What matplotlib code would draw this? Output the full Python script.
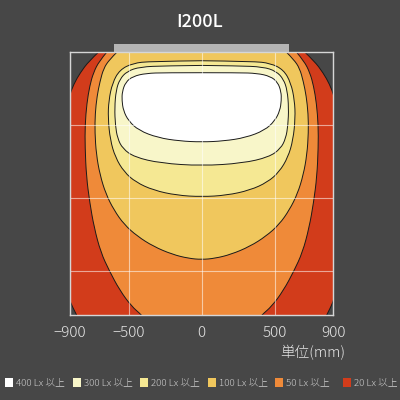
import matplotlib
matplotlib.use('Agg')
import matplotlib.pyplot as plt
from matplotlib.path import Path
from matplotlib.patches import PathPatch, Rectangle

plt.rcParams['font.family'] = ['Noto Sans CJK JP', 'DejaVu Sans']

# ---------------- data (mm) ----------------
title = "I200L"
unit_label = "単位(mm)"
x_ticks = [-900, -500, 0, 500, 900]
x_tick_labels = ["\u2212900", "\u2212500", "0", "500", "900"]
y_grid = [500, 1000, 1500]
lamp_x = [-600, 600]

levels = ["400 Lx 以上", "300 Lx 以上", "200 Lx 以上", "100 Lx 以上", "50 Lx 以上", "20 Lx 以上"]
level_colors = ["#ffffff", "#f8f6c9", "#f5e893", "#f0c75d", "#ef8a39", "#d23c1b"]

# right half of each iso-lux boundary (mirrored for the left half)
lx400_x = [0, 250, 380, 470, 520, 543, 545, 535, 500, 430, 300, 150, 0]
lx400_y = [140, 140, 144, 165, 205, 270, 330, 400, 470, 535, 585, 608, 615]

lx300_x = [0, 250, 420, 510, 560, 585, 595, 590, 575, 540, 460, 280, 0]
lx300_y = [90, 93, 100, 130, 185, 260, 380, 500, 590, 660, 718, 760, 778]

lx200_x = [0, 350, 470, 560, 610, 635, 640, 625, 590, 530, 450, 330, 170, 0]
lx200_y = [58, 62, 75, 120, 210, 330, 450, 600, 720, 820, 890, 945, 980, 990]

lx100_x = [580, 630, 670, 695, 715, 728, 730, 720, 695, 655, 600, 530, 440, 330, 200, 90, 0]
lx100_y = [0, 50, 110, 200, 300, 420, 550, 700, 840, 970, 1080, 1180, 1260, 1330, 1385, 1412, 1420]

lx50_x = [649, 700, 740, 765, 785, 797, 797, 788, 765, 735, 690, 630, 560, 480, 410, 370]
lx50_y = [0, 60, 140, 230, 350, 500, 650, 850, 1030, 1200, 1370, 1500, 1630, 1740, 1800, 1850]

lx20_x = [706, 770, 830, 875, 905, 960, 990, 990, 960, 910, 854, 835]
lx20_y = [0, 60, 140, 220, 300, 500, 800, 1100, 1450, 1690, 1800, 1850]

boundaries = [(lx20_x, lx20_y), (lx50_x, lx50_y), (lx100_x, lx100_y),
              (lx200_x, lx200_y), (lx300_x, lx300_y), (lx400_x, lx400_y)]
fill_colors = level_colors[::-1]

bg = "#474747"
text_col = "#e6e6e6"


def full_outline(xs, ys):
    right = list(zip(xs, ys))
    left = [(-x, y) for x, y in reversed(right)]
    if right[-1][0] == 0:
        return right + left[1:]
    return right + left


def smooth_path(pts, closed):
    verts = [pts[0]]
    codes = [Path.MOVETO]
    n = len(pts)
    for i in range(1, n - 1):
        c = pts[i]
        if i == n - 2:
            e = pts[-1]
        else:
            e = ((pts[i][0] + pts[i + 1][0]) / 2, (pts[i][1] + pts[i + 1][1]) / 2)
        verts += [c, e]
        codes += [Path.CURVE3, Path.CURVE3]
    if closed:
        verts.append(pts[0])
        codes.append(Path.CLOSEPOLY)
    return Path(verts, codes)


fig = plt.figure(figsize=(4, 4), dpi=100, facecolor=bg)
ax = fig.add_axes([0.175, 0.2125, 0.6583, 0.6568])
ax.set_facecolor(bg)
ax.set_xlim(-900, 900)
ax.set_ylim(1800, 0)

for (xs, ys), col in zip(boundaries, fill_colors):
    pts = full_outline(xs, ys)
    ax.add_patch(PathPatch(smooth_path(pts, True), facecolor=col, edgecolor='none', zorder=1))
    ax.add_patch(PathPatch(smooth_path(pts, False), facecolor='none', edgecolor='#1a1a1a',
                           lw=0.7, zorder=2))

# lamp
ax.add_patch(Rectangle((lamp_x[0], -60), lamp_x[1] - lamp_x[0], 60, facecolor='#b4b4b4',
                       edgecolor='none', clip_on=False, zorder=3))

ax.set_xticks(x_ticks)
ax.set_xticklabels(x_tick_labels, fontweight='light')
ax.set_yticks(y_grid)
ax.tick_params(axis='x', length=0, pad=8, labelsize=11, labelcolor=text_col)
ax.tick_params(axis='y', length=0, labelleft=False)
ax.set_axisbelow(False)
ax.grid(True, color='white', alpha=0.55, lw=0.8)
for s in ax.spines.values():
    s.set_color('#d6d6d6')
    s.set_linewidth(1.0)
    s.set_zorder(4)

fig.text(0.5, 1 - 22 / 400, title, ha='center', va='center', fontsize=13,
         color='white', fontweight='medium')
fig.text(345 / 400, 1 - 353 / 400, unit_label, ha='right', va='center', fontsize=10.5,
         color=text_col, fontweight='light')

for i, (lab, col) in enumerate(zip(levels, level_colors)):
    x0 = (5 + i * 67.6) / 400
    fig.patches.append(Rectangle((x0, 1 - 387 / 400), 8 / 400, 9 / 400,
                                 transform=fig.transFigure, facecolor=col,
                                 edgecolor='none'))
    fig.text(x0 + 11 / 400, 1 - 382.5 / 400, lab, fontsize=7, color='#d0d0d0',
             va='center', ha='left', fontweight='light')

fig.savefig('out.png', dpi=100, facecolor=bg)
